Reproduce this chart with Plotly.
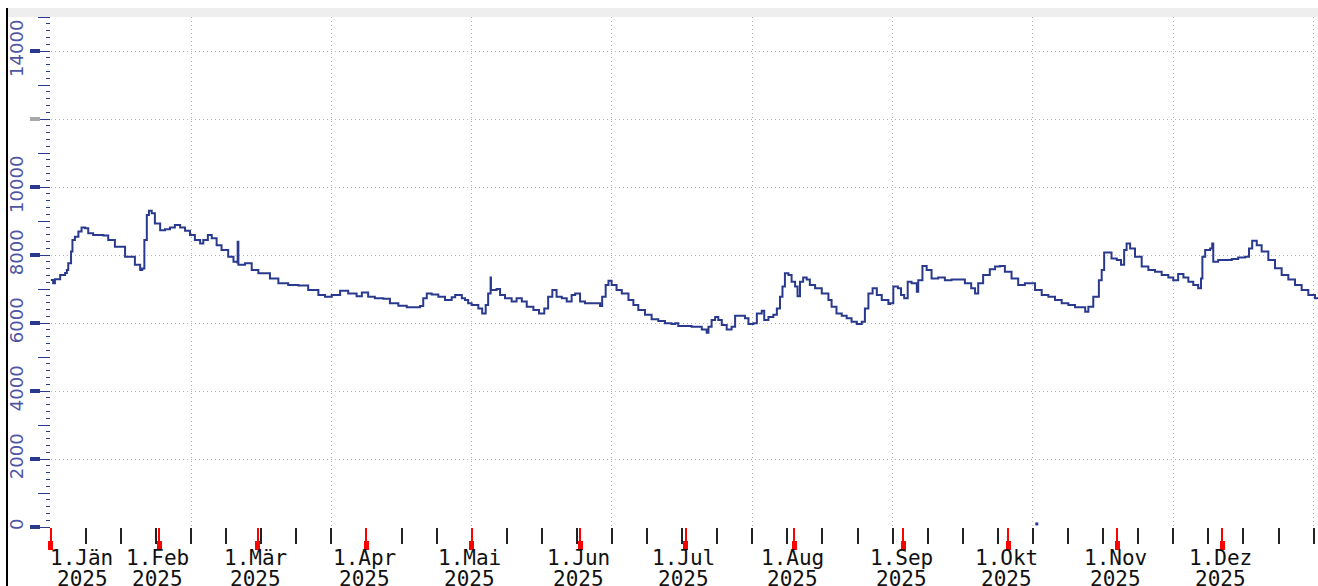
import pandas as pd
import plotly.graph_objects as go

# ---- data (day offsets from 2025-01-01) ----
days = [0, 0.7, 1.2, 2.7, 4.1, 4.6, 5.0, 5.8, 6.2, 6.9, 7.9, 8.8, 9.8, 10.7, 12.1, 15.0, 16.4, 18.3, 21.2, 24.0,
        25.5, 26.1, 26.7, 27.4, 28.0, 28.8, 29.7, 31.2, 32.6, 34.0, 35.4, 36.9, 38.3, 39.7, 41.1, 42.6, 43.5, 44.8,
        45.9, 47.3, 48.7, 50.6, 52.1, 53.2, 53.3, 53.5, 55.4, 57.3, 59.2, 60.1, 62.5, 64.9, 67.7, 70.6, 73.4, 76.3,
        78.2, 80.1, 82.5, 84.8, 87.2, 88.7, 90.5, 92.4, 94.8, 96.7, 99.1, 101.5, 103.4, 105.3, 106.2, 107.2, 108.6,
        110.5, 112.4, 114.3, 115.3, 117.2, 118.1, 119.0, 120.0, 121.9, 123.0, 124.0, 124.7, 125.3, 125.4, 125.5,
        127.1, 128.1, 129.5, 131.4, 132.8, 134.3, 135.7, 137.6, 139.2, 140.7, 141.8, 143.0, 144.2, 145.7, 147.1,
        148.5, 149.5, 150.9, 152.3, 154.7, 156.6, 157.2, 158.2, 159.0, 159.9, 161.3, 162.8, 164.7, 166.1, 167.5,
        169.4, 171.3, 173.2, 175.1, 177.0, 178.0, 178.9, 179.9, 182.7, 185.6, 187.0, 187.5, 188.4, 189.4, 190.3,
        191.3, 192.7, 194.1, 195.1, 196.5, 197.9, 198.9, 200.3, 201.3, 202.7, 203.4, 204.6, 206.0, 207.0, 207.9,
        208.6, 209.3, 210.3, 211.2, 212.2, 212.9, 213.6, 214.5, 215.5, 216.4, 217.9, 219.8, 221.7, 222.6, 224.0,
        225.5, 226.9, 228.3, 229.8, 231.2, 232.1, 233.1, 234.3, 235.5, 236.9, 238.8, 239.3, 240.2, 241.5, 242.4,
        243.3, 244.3, 245.4, 246.9, 247.3, 248.5, 249.7, 251.1, 253.0, 254.9, 256.8, 258.7, 260.6, 262.4, 263.5,
        264.4, 265.8, 267.7, 269.2, 270.6, 272.0, 273.9, 275.8, 277.7, 279.2, 280.6, 282.5, 284.4, 286.3, 288.2,
        290.1, 292.0, 294.9, 295.8, 297.2, 298.8, 299.6, 300.3, 301.5, 302.4, 303.9, 305.1, 306.0, 306.7, 307.7,
        309.1, 311.0, 312.9, 314.8, 316.7, 318.6, 320.0, 321.4, 322.9, 324.3, 325.7, 327.1, 327.9, 328.3, 329.1,
        330.5, 331.1, 331.4, 332.8, 334.7, 336.7, 338.5, 340.5, 341.6, 342.5, 343.8, 345.2, 347.1, 349.0, 350.9,
        352.8, 354.7, 356.6, 358.5, 360.4, 361.3]
values = [7265, 7170, 7290, 7410, 7470, 7560, 7760, 8100, 8440, 8540, 8690, 8810, 8790, 8640, 8590, 8570, 8440, 8240, 7950, 7710,
          7560, 7600, 8440, 9180, 9300, 9230, 8930, 8730, 8760, 8810, 8880, 8810, 8710, 8590, 8440, 8340, 8440, 8590,
          8490, 8290, 8150, 7950, 7800, 7780, 8390, 7710, 7760, 7560, 7460, 7460, 7310, 7170, 7120, 7100, 6970, 6820,
          6770, 6820, 6950, 6870, 6790, 6900, 6770, 6730, 6710, 6580, 6510, 6460, 6460, 6500, 6730, 6870, 6840,
          6770, 6680, 6760, 6820, 6730, 6680, 6580, 6530, 6430, 6280, 6530, 6870, 6870, 7340, 6970,
          7000, 6820, 6730, 6630, 6730, 6630, 6480, 6380, 6280, 6430, 6770, 6970, 6770, 6730, 6630,
          6820, 6870, 6630, 6580, 6580, 6500, 6770, 7120, 7240, 7120, 6970, 6870, 6680, 6530, 6380,
          6240, 6110, 6060, 5990, 5970, 5990, 5910, 5910, 5890, 5810, 5710, 5890, 6090, 6180, 6090,
          5940, 5810, 5890, 6210, 6210, 6140, 5970, 5990, 6280, 6360, 6090, 6180, 6240, 6430, 6770,
          7070, 7460, 7410, 7210, 7070, 6790, 7210, 7340, 7280, 7120, 7020, 6870, 6680, 6480, 6280,
          6210, 6140, 6040, 5970, 6040, 6430, 6870, 7020, 6820, 6680, 6560, 6580, 7070, 7020, 6820,
          6730, 7210, 7170, 6920, 7260, 7680, 7560, 7310, 7340, 7260, 7280, 7280, 7170, 7020, 6870,
          7170, 7410, 7580, 7660, 7680, 7510, 7310, 7120, 7170, 7170, 6970, 6820, 6770, 6680, 6580,
          6530, 6460, 6330, 6480, 6770, 7260, 7560, 8070, 8070, 7900, 7850, 7710, 8150, 8340, 8190,
          7950, 7660, 7560, 7510, 7410, 7340, 7260, 7440, 7340, 7210, 7120, 7020, 7310, 7950, 8150,
          8190, 8340, 7800, 7850, 7850, 7880, 7930, 7950, 8190, 8420, 8290, 8100, 7850, 7610, 7410,
          7280, 7120, 6970, 6820, 6730, 6700]

# isolated sample near zero (small dot on the x axis)
dot_day = [281.1]
dot_value = [90]

month_labels = ["1.Jän", "1.Feb", "1.Mär", "1.Apr", "1.Mai", "1.Jun",
                "1.Jul", "1.Aug", "1.Sep", "1.Okt", "1.Nov", "1.Dez"]
month_starts = ["2025-01-01", "2025-02-01", "2025-03-01", "2025-04-01", "2025-05-01", "2025-06-01",
                "2025-07-01", "2025-08-01", "2025-09-01", "2025-10-01", "2025-11-01", "2025-12-01"]
year_label = "2025"

y_tickvals = [0, 2000, 4000, 6000, 8000, 10000, 14000]
y_ticktext = ["0", "2000", "4000", "6000", "8000", "10000", "14000"]
y_grey_tick = [12000]
y_odd_thousands = [1000, 3000, 5000, 7000, 9000, 11000, 13000, 15000]

# ---- build ----
start = pd.Timestamp("2025-01-01")
x = [start + pd.Timedelta(days=d) for d in days]
xdot = [start + pd.Timedelta(days=d) for d in dot_day]
x_end = start + pd.Timedelta(days=361.26)
xr = [start, x_end]
yr = [0, 15000]

W, H = 1318, 586
T, B = 17, 0
PH = H - T - B
def py(px):  # pixel row -> paper y
    return (H - B - px) / PH

line_col = "#293a8e"
DAY = 86400000

fig = go.Figure()
fig.add_trace(go.Scatter(x=x, y=values, mode="lines", line=dict(color=line_col, width=2, shape="hv"),
                         showlegend=False, hoverinfo="skip"))
fig.add_trace(go.Scatter(x=xdot, y=dot_value, mode="markers", marker=dict(color=line_col, size=3, symbol="square"),
                         showlegend=False, hoverinfo="skip"))
# empty traces to realise overlay axes
for xa, ya in [("x2", "y"), ("x3", "y"), ("x", "y2"), ("x", "y3"), ("x", "y4")]:
    fig.add_trace(go.Scatter(x=[], y=[], xaxis=xa, yaxis=ya, showlegend=False))

xdom = [50.7 / W, 1]
grid = dict(gridcolor="#b4b4b4", griddash="1px,3px", gridwidth=1)

fig.update_layout(
    width=W, height=H, margin=dict(l=0, r=0, t=T, b=B, autoexpand=False),
    paper_bgcolor="white", plot_bgcolor="white",
    xaxis=dict(type="date", range=xr, domain=xdom, anchor="y", tick0="2025-01-01", dtick=40 * DAY,
               ticks="outside", ticklen=16, tickwidth=2, tickcolor="#222", showticklabels=False,
               showgrid=True, **grid, zeroline=False, showline=False,
               minor=dict(tick0="2025-01-01", dtick=10 * DAY, ticks="outside", ticklen=16, tickwidth=2,
                          tickcolor="#222", showgrid=False)),
    xaxis2=dict(type="date", range=xr, domain=xdom, overlaying="x", anchor="y", side="bottom",
                tickmode="array", tickvals=month_starts, ticks="outside", ticklen=13, tickwidth=2,
                tickcolor="#ff0000", showticklabels=False, showgrid=False, zeroline=False, showline=False),
    xaxis3=dict(type="date", range=xr, domain=xdom, overlaying="x", anchor="free", position=py(540), side="bottom",
                tickmode="array", tickvals=month_starts, ticks="outside", ticklen=9, tickwidth=5,
                tickcolor="#ff0000", showticklabels=False, showgrid=False, zeroline=False, showline=False),
    yaxis=dict(range=yr, domain=[py(527), 1], anchor="x", tick0=0, dtick=2000, ticks="outside", ticklen=10,
               tickwidth=1, tickcolor=line_col, showticklabels=False, showgrid=True, **grid,
               zeroline=False, showline=False,
               minor=dict(tick0=0, dtick=200, ticks="outside", ticklen=4, tickwidth=1, tickcolor=line_col,
                          showgrid=False)),
    yaxis2=dict(range=yr, domain=[py(527), 1], overlaying="y", anchor="x", side="left", tickmode="array",
                tickvals=y_odd_thousands, ticks="outside", ticklen=12, tickwidth=1, tickcolor=line_col,
                showticklabels=False, showgrid=False, zeroline=False, showline=False),
    yaxis3=dict(range=yr, domain=[py(527), 1], overlaying="y", anchor="free", position=40 / W, side="left",
                tickmode="array", tickvals=y_tickvals, ticktext=y_ticktext, ticks="outside", ticklen=10,
                tickwidth=4, tickcolor=line_col, tickangle=-90,
                tickfont=dict(family="DejaVu Sans", size=18, color="#4f55a5"),
                showgrid=False, zeroline=False, showline=False),
    yaxis4=dict(range=yr, domain=[py(527), 1], overlaying="y", anchor="free", position=40 / W, side="left",
                tickmode="array", tickvals=y_grey_tick, ticks="outside", ticklen=10, tickwidth=4,
                tickcolor="#a8a8a8", showticklabels=False, showgrid=False, zeroline=False, showline=False),
)

# frame decorations
fig.add_shape(type="rect", xref="paper", yref="paper", x0=8 / W, x1=1, y0=py(17), y1=py(8),
              fillcolor="#eeeeee", line=dict(width=0), layer="below")
fig.add_shape(type="line", xref="paper", yref="paper", x0=7 / W, x1=7 / W, y0=py(586), y1=py(8),
              line=dict(color="black", width=2))

lab_font = dict(family="DejaVu Sans Mono", size=21, color="#111")
for i, (m, d) in enumerate(zip(month_labels, month_starts)):
    first = i == 0
    fig.add_annotation(x=d, xref="x", y=py(558), yref="paper", text=m, showarrow=False, font=lab_font,
                       xanchor="left" if first else "center", yanchor="middle",
                       xshift=-3 if first else -2)
    fig.add_annotation(x=d, xref="x", y=py(579), yref="paper", text=year_label, showarrow=False, font=lab_font,
                       xanchor="left" if first else "center", yanchor="middle",
                       xshift=4 if first else -2)

fig.write_html("out.html", config={"displayModeBar": False},
               post_script="document.body.style.margin='0';document.body.style.overflow='hidden';")
